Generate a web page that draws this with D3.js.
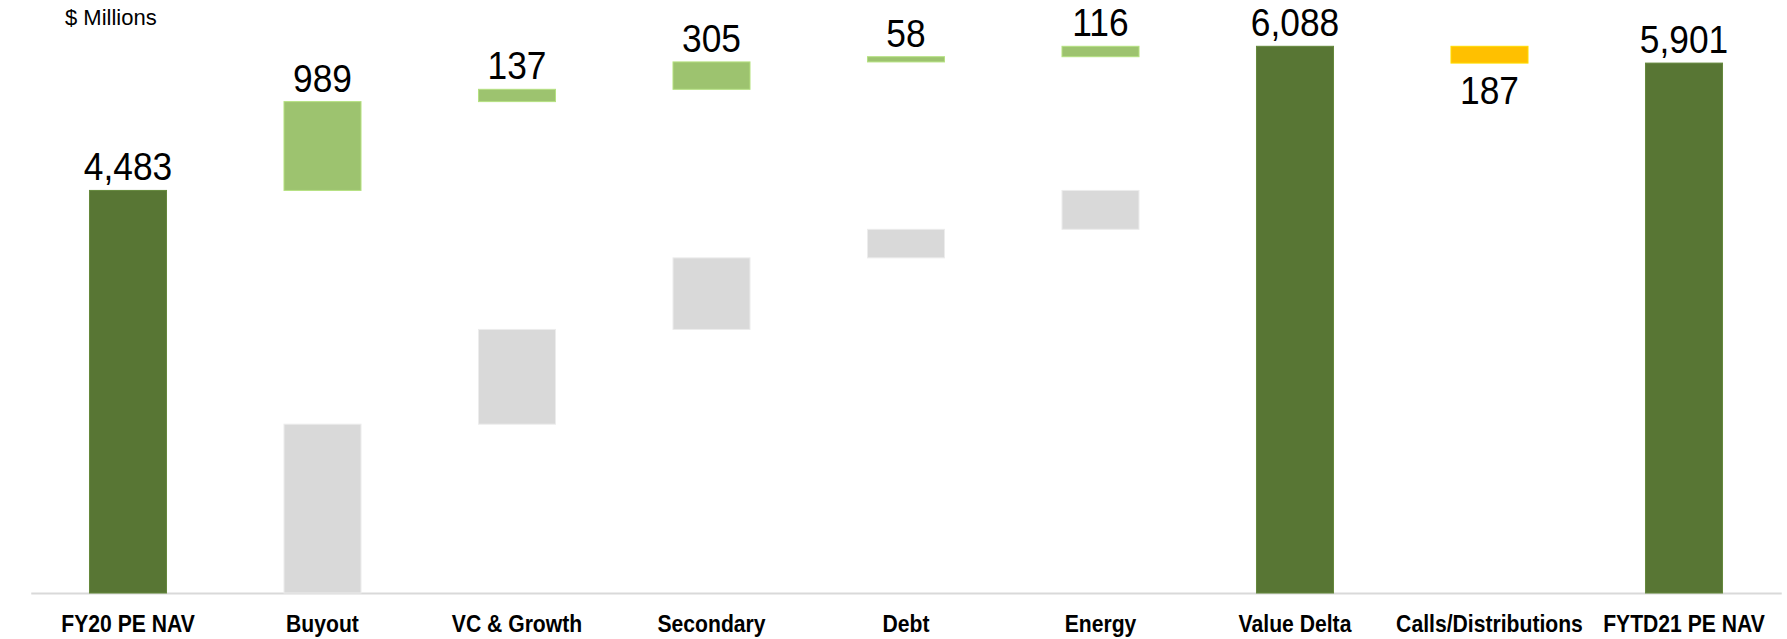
<!DOCTYPE html>
<html>
<head>
<meta charset="utf-8">
<script src="https://cdn.jsdelivr.net/npm/d3@7"></script>
<style>
  body { margin: 0; background: #fff; }
  svg { display: block; font-family: "Liberation Sans", Arial, sans-serif; }
  .axis path { stroke: #d9d9d9; stroke-width: 2; }
  .axis text { font-size: 23px; font-weight: bold; fill: #000; }
  .value { font-size: 38px; fill: #000; }
</style>
</head>
<body>
<svg></svg>
<script>
// data ($ millions)
var categories = ["FY20 PE NAV", "Buyout", "VC & Growth", "Secondary", "Debt",
                  "Energy", "Value Delta", "Calls/Distributions", "FYTD21 PE NAV"];
var values = [4483, 989, 137, 305, 58, 116, 6088, -187, 5901];
var kinds = ["total", "up", "up", "up", "up", "up", "total", "down", "total"];
// grey blocks under the segments: beginning NAV by strategy, stacked from 0
var greyCategories = ["Buyout", "VC & Growth", "Secondary", "Debt", "Energy"];
var greyValues = [1880, 1055, 797, 318, 433];

var config = {
  w: 1787,
  h: 639,
  base: 593,
  top: 9.3,
  left: 30.75,
  right: 1781.25
};

var colors = {
  total: "#587634",
  up: "#9dc36f",
  down: "#ffc000",
  grey: "#d9d9d9"
};

var svg = d3.select("svg")
  .attr("width", config.w)
  .attr("height", config.h);

var x = d3.scaleBand()
  .domain(categories)
  .range([config.left, config.right])
  .paddingInner(0.604)
  .paddingOuter(0.302);

var y = d3.scaleLinear()
  .domain([0, 6500])
  .range([config.base, config.top]);

// build floating bars (start/end) from the values
var bars = [];
var running = 0;
values.forEach(function(v, i) {
  var d = {name: categories[i], value: v, kind: kinds[i]};
  if (kinds[i] == "total") {
    d.start = 0;
    d.end = v;
    running = v;
  } else {
    d.start = running;
    d.end = running + v;
    running = d.end;
  }
  bars.push(d);
});

var greys = [];
var acc = 0;
greyValues.forEach(function(v, i) {
  greys.push({name: greyCategories[i], start: acc, end: acc + v});
  acc += v;
});

// x axis, no ticks, just the light base line and labels
var axis = svg.append("g")
  .attr("class", "axis")
  .attr("transform", "translate(0," + config.base + ")")
  .call(d3.axisBottom(x).tickSize(0).tickPadding(23));

axis.selectAll("text")
  .attr("transform", "scale(0.92,1)");

var g = svg.append("g");

g.selectAll("rect.grey")
  .data(greys)
  .enter()
  .append("rect")
    .attr("class", "grey")
    .attr("x", function(d) { return x(d.name); })
    .attr("width", x.bandwidth())
    .attr("y", function(d) { return y(d.end); })
    .attr("height", function(d) { return y(d.start) - y(d.end); })
    .attr("fill", colors.grey)
    .attr("stroke", "#ececec")
    .attr("stroke-width", 1);

g.selectAll("rect.bar")
  .data(bars)
  .enter()
  .append("rect")
    .attr("class", "bar")
    .attr("x", function(d) { return x(d.name); })
    .attr("width", x.bandwidth())
    .attr("y", function(d) { return y(Math.max(d.start, d.end)); })
    .attr("height", function(d) { return Math.abs(y(d.start) - y(d.end)); })
    .attr("fill", function(d) { return colors[d.kind]; })
    .attr("stroke", function(d) { return d3.color(colors[d.kind]).brighter(0.4); })
    .attr("stroke-width", 1);

// value labels: above the bar, or below it for the negative step
var fmt = d3.format(",");
g.selectAll("text.value")
  .data(bars)
  .enter()
  .append("text")
    .attr("class", "value")
    .attr("text-anchor", "middle")
    .attr("transform", function(d) {
      var cx = x(d.name) + x.bandwidth() / 2;
      var ty = d.value < 0
        ? y(Math.min(d.start, d.end)) + 41
        : y(Math.max(d.start, d.end)) - 10;
      return "translate(" + cx + "," + ty + ") scale(0.93,1)";
    })
    .text(function(d) { return fmt(Math.abs(d.value)); });

svg.append("text")
  .attr("transform", "translate(65,25)")
  .style("font-size", "22px")
  .text("$ Millions");
</script>
</body>
</html>
